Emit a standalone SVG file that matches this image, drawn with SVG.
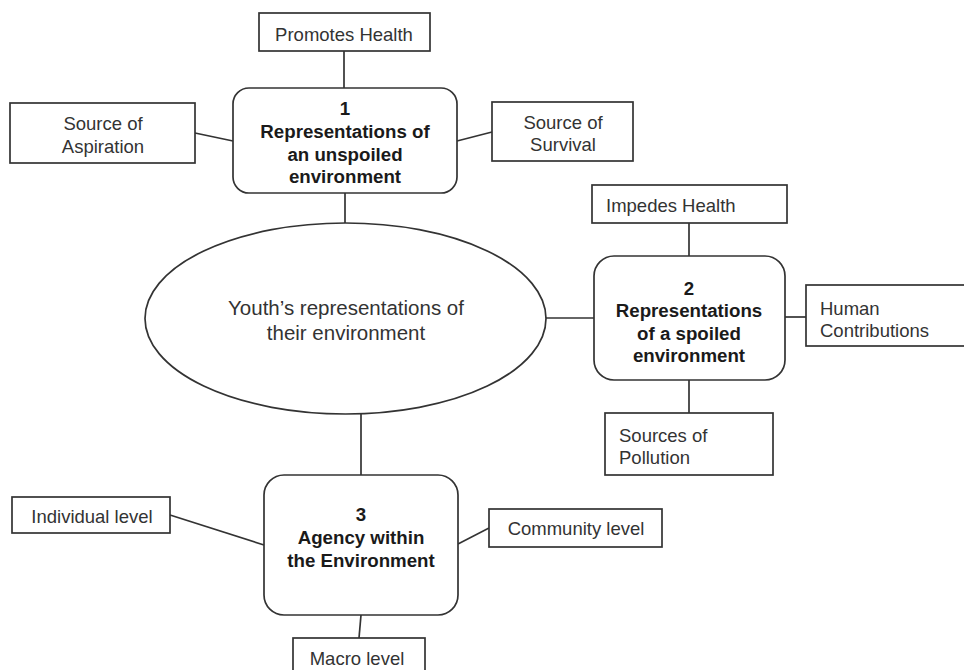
<svg xmlns="http://www.w3.org/2000/svg" width="964" height="670" viewBox="0 0 964 670">
<style>
.bg{fill:#ffffff}
.box{fill:#ffffff;stroke:#333333;stroke-width:1.7}
.conn line{stroke:#333333;stroke-width:1.7}
.lbl{font-family:"Liberation Sans",Arial,sans-serif;font-size:18.5px;fill:#333333}
.c{text-anchor:middle}
.b{font-family:"Liberation Sans",Arial,sans-serif;font-size:18.7px;font-weight:bold;fill:#1a1a1a;text-anchor:middle}
.ell{font-family:"Liberation Sans",Arial,sans-serif;font-size:20.5px;fill:#333333;text-anchor:middle}
</style>
<rect class="bg" x="0" y="0" width="964" height="670"/>
<g id="connectors" class="conn">
  <line x1="344" y1="51" x2="344" y2="88"/>
  <line x1="195" y1="133" x2="233" y2="141"/>
  <line x1="457" y1="141" x2="492" y2="132"/>
  <line x1="345" y1="193" x2="345" y2="223"/>
  <line x1="546" y1="318" x2="594" y2="318"/>
  <line x1="689" y1="223" x2="689" y2="256"/>
  <line x1="785" y1="317" x2="806" y2="317"/>
  <line x1="689" y1="380" x2="689" y2="413"/>
  <line x1="361" y1="414" x2="361" y2="475"/>
  <line x1="170" y1="515" x2="264" y2="545"/>
  <line x1="458" y1="544" x2="489" y2="528"/>
  <line x1="361" y1="615" x2="359" y2="638"/>
</g>
<g id="promotes-health">
  <rect class="box" x="259" y="13" width="171" height="38"/>
  <text class="lbl c" x="344" y="41">Promotes Health</text>
</g>
<g id="source-aspiration">
  <rect class="box" x="10" y="103" width="185" height="60"/>
  <text class="lbl c" x="103" y="129.5">Source of</text>
  <text class="lbl c" x="103" y="152.5">Aspiration</text>
</g>
<g id="source-survival">
  <rect class="box" x="492" y="102" width="141" height="59"/>
  <text class="lbl c" x="563" y="128.5">Source of</text>
  <text class="lbl c" x="563" y="150.5">Survival</text>
</g>
<g id="node1">
  <rect class="box" x="233" y="88" width="224" height="105" rx="16" ry="16"/>
  <text class="b" x="345" y="114.5">1</text>
  <text class="b" x="345" y="138">Representations of</text>
  <text class="b" x="345" y="160.5">an unspoiled</text>
  <text class="b" x="345" y="183">environment</text>
</g>
<g id="center">
  <ellipse class="box" cx="345.5" cy="318.5" rx="200.5" ry="95.5"/>
  <text class="ell" x="346" y="315">Youth’s representations of</text>
  <text class="ell" x="346" y="340">their environment</text>
</g>
<g id="impedes-health">
  <rect class="box" x="592" y="185" width="195" height="38"/>
  <text class="lbl" x="606" y="211.5">Impedes Health</text>
</g>
<g id="node2">
  <rect class="box" x="594" y="256" width="191" height="124" rx="20" ry="20"/>
  <text class="b" x="689" y="294.5">2</text>
  <text class="b" x="689" y="317">Representations</text>
  <text class="b" x="689" y="339.5">of a spoiled</text>
  <text class="b" x="689" y="362">environment</text>
</g>
<g id="human-contributions">
  <rect class="box" x="806" y="285" width="170" height="61"/>
  <text class="lbl" x="820" y="314.5">Human</text>
  <text class="lbl" x="820" y="336.5">Contributions</text>
</g>
<g id="sources-pollution">
  <rect class="box" x="605" y="413" width="168" height="62"/>
  <text class="lbl" x="619" y="441.5">Sources of</text>
  <text class="lbl" x="619" y="463.5">Pollution</text>
</g>
<g id="node3">
  <rect class="box" x="264" y="475" width="194" height="140" rx="20" ry="20"/>
  <text class="b" x="361" y="520.5">3</text>
  <text class="b" x="361" y="543.5">Agency within</text>
  <text class="b" x="361" y="566.5">the Environment</text>
</g>
<g id="individual-level">
  <rect class="box" x="12" y="497" width="158" height="36"/>
  <text class="lbl c" x="92" y="523">Individual level</text>
</g>
<g id="community-level">
  <rect class="box" x="489" y="509" width="173" height="38"/>
  <text class="lbl c" x="576" y="535">Community level</text>
</g>
<g id="macro-level">
  <rect class="box" x="293" y="638" width="132" height="50"/>
  <text class="lbl c" x="357" y="665">Macro level</text>
</g>
</svg>
